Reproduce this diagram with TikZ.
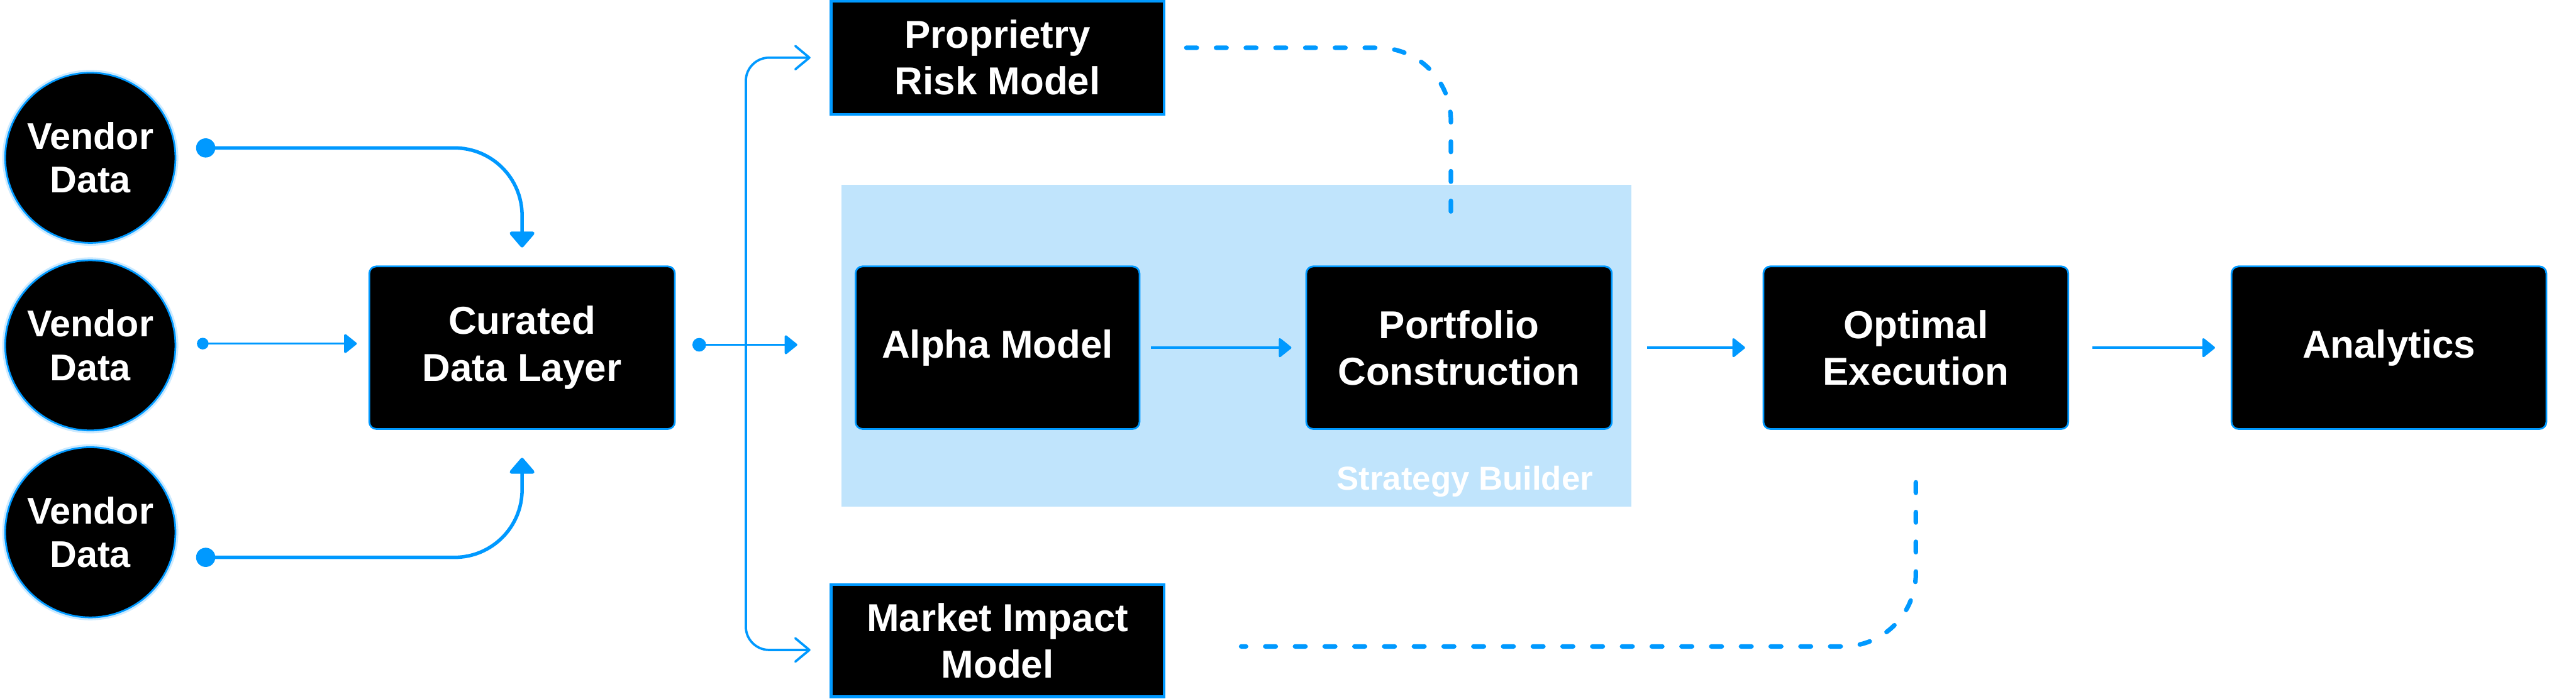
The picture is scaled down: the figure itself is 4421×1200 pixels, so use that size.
\documentclass[tikz,border=0pt]{standalone}
\usepackage{fontspec}
\setmainfont{Liberation Sans}
\usetikzlibrary{arrows.meta}
\definecolor{brandblue}{HTML}{0099FF}
\definecolor{panelblue}{HTML}{C0E4FC}
\definecolor{glowblue}{HTML}{CCEAFF}

\begin{document}
\begin{tikzpicture}[x=0.01cm, y=-0.01cm,
	vendor/.style={circle, fill=black, draw=brandblue, line width=0.85pt, minimum size=2.92cm, inner sep=0pt, text=white, align=center, font={\fontsize{18.2pt}{21.3pt}\selectfont\bfseries}, preaction={draw=glowblue, line width=0.1cm}},
	block/.style={rectangle, rounded corners=0.12cm, fill=black, draw=brandblue, line width=0.85pt, minimum height=2.79cm, inner sep=0pt, text=white, align=center, font={\fontsize{19pt}{22.8pt}\selectfont\bfseries}},
	model/.style={block, rounded corners=0pt, line width=1.3pt, minimum width=5.71cm, minimum height=1.94cm},
	panel/.style={rectangle, fill=panelblue, inner sep=0pt, minimum width=13.55cm, minimum height=5.52cm},
	wire/.style={draw=brandblue, line width=1.14pt},
	flow/.style={wire, -{Triangle[length=0.23cm, width=0.36cm, round]}},
	bigflow/.style={draw=brandblue, line width=1.7pt, rounded corners=1.16cm, -{Triangle[length=0.29cm, width=0.48cm, round]}},
	branch/.style={wire, rounded corners=0.4cm, -{Straight Barb[length=0.24cm, width=0.40cm, round]}},
	feedback/.style={draw=brandblue, line width=2.2pt, line cap=round, dash pattern=on 0.18cm off 0.33cm, rounded corners=1.25cm}]
	\useasboundingbox (0,0) rectangle (4421,1200);
	% Nodes:
	\node[vendor] (ven1) at (155,271){Vendor\\Data};
	\node[vendor] (ven2) at (155,593){Vendor\\Data};
	\node[vendor] (ven3) at (155,914){Vendor\\Data};
	\node[panel] (sb) at (2122,594){};
	\node[anchor=base east, text=white, font={\fontsize{16.2pt}{19pt}\selectfont\bfseries}] (sblabel) at ([shift={(-0.54cm,0.29cm)}]sb.south east){Strategy Builder};
	\node[block, minimum width=5.24cm] (cur) at (896,597){Curated\\Data Layer};
	\node[block, minimum width=4.87cm] (alpha) at (1712,597){Alpha Model};
	\node[block, minimum width=5.24cm] (port) at (2504,597){Portfolio\\Construction};
	\node[block, minimum width=5.23cm] (opt) at (3288,597){Optimal\\Execution};
	\node[block, minimum width=5.40cm] (ana) at (4100,597){Analytics};
	\node[model] (risk) at (1712,99){Proprietry\\Risk Model};
	\node[model, minimum height=1.93cm] (mkt) at (1712,1100){Market Impact\\Model};
	% Wires:
	\coordinate (d1) at (353,254);
	\coordinate (d2) at (348,590);
	\coordinate (d3) at (353,957);
	\coordinate (d4) at (1200,592);
	\coordinate (fork) at (1280,592);
	\coordinate (sbin) at (2490,365);
	\draw[bigflow] (d1) -| ([yshift=0.31cm]cur.north);
	\draw[bigflow] (d3) -| ([yshift=-0.48cm]cur.south);
	\draw[flow, shorten >=0.2cm] (d2) -- (d2 -| cur.west);
	\draw[flow, shorten >=0.75cm] (d4) -- (d4 -| sb.west);
	\draw[branch, shorten >=0.33cm] (fork) |- (risk.west);
	\draw[branch, shorten >=0.33cm] (fork) |- ([yshift=-0.16cm]mkt.west);
	\draw[flow] ([xshift=0.18cm]alpha.east) -- ([xshift=-0.24cm]port.west);
	\draw[flow] ([xshift=0.59cm]port.east) -- ([xshift=-0.30cm]opt.west);
	\draw[flow] ([xshift=0.40cm]opt.east) -- ([xshift=-0.27cm]ana.west);
	\foreach \d/\r in {d1/16.5, d2/10, d3/16.5, d4/11.7}
		\fill[brandblue] (\d) circle (\r);
	% Dashed links:
	\draw[feedback] ([shift={(0.36cm,0.17cm)}]risk.east) -| (sbin);
	\draw[feedback] ([yshift=-0.9cm]opt.south) |- ([shift={(1.3cm,-0.1cm)}]mkt.east);
\end{tikzpicture}
\end{document}
